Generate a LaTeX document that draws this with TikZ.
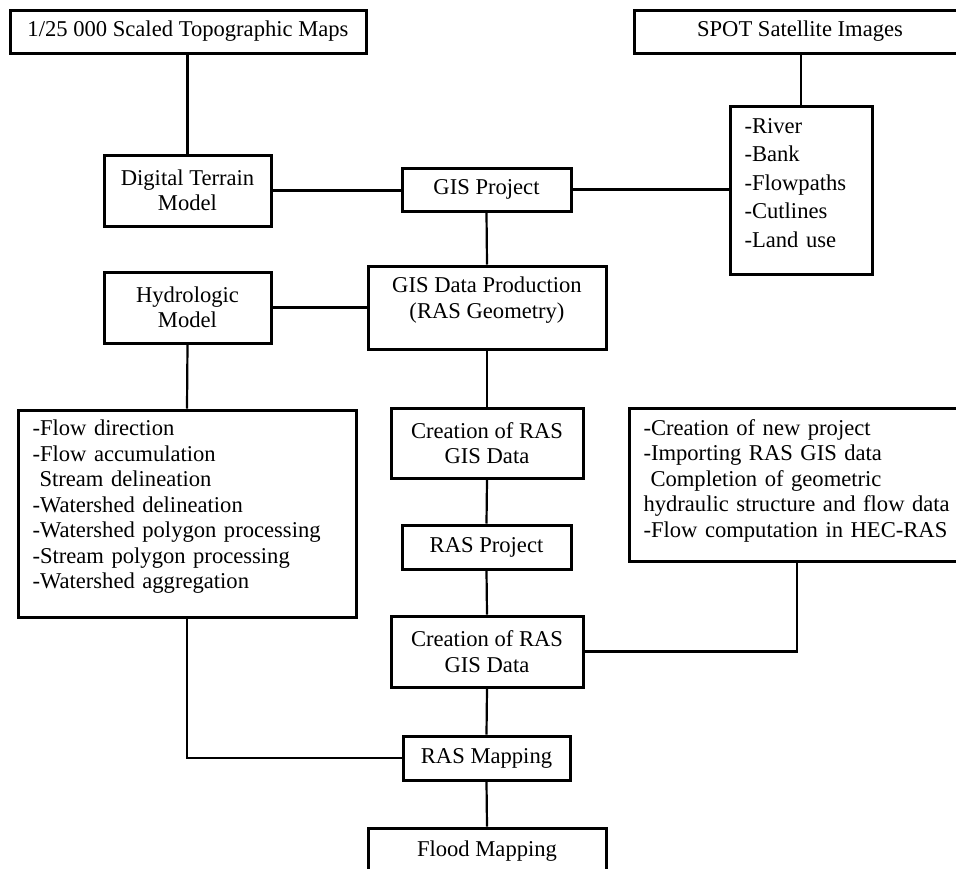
\documentclass[tikz,border=0pt]{standalone}
\usepackage{fontspec}
\setmainfont{Liberation Serif}
\usetikzlibrary{positioning}

\begin{document}
\begin{tikzpicture}[
  x=1pt, y=-1pt,
  every node/.style={align=center, inner sep=0pt,
                     font=\fontsize{22.6}{25.5}\selectfont},
  box/.style ={draw, line width=3pt},
  list/.style={box, align=left, inner xsep=14.5pt},
  link/.style={line width=2.2pt}
]
\useasboundingbox (0,0) rectangle (956,868);

% --- Sources (top row) ---
\node[box, minimum width=356, minimum height=43] (topo) at (188,31.5)
  {1/25 000 Scaled Topographic Maps};
\node[box, minimum width=332, minimum height=43] (spot) at (800,31.5)
  {SPOT Satellite Images};

% --- GIS row ---
\node[box, minimum width=167, minimum height=71] (dtm) at (187.5,190.5)
  {Digital Terrain\\Model};
\node[box, minimum width=169, minimum height=43] (gisp) at (486.5,189.5)
  {GIS Project};
\node[list, text width=113, minimum height=168, font=\fontsize{22.6}{28.5}\selectfont,
      text depth=128pt] (feat) at (801,190)
  {-River\\-Bank\\-Flowpaths\\-Cutlines\\-Land use};

% --- Hydrology and geometry ---
\node[box, minimum width=167, minimum height=71] (hydro) at (187.5,307.5)
  {Hydrologic\\Model};
\node[box, minimum width=238, minimum height=83, text depth=20pt] (gisd) at (487,307.5)
  {GIS Data Production\\(RAS Geometry)};
\node[list, text width=309, minimum height=207, text depth=171pt] (flow) at (187,513.5)
  {-Flow direction\\-Flow accumulation\\\hspace*{7pt}Stream delineation\\
   -Watershed delineation\\-Watershed polygon processing\\
   -Stream polygon processing\\-Watershed aggregation};

% --- RAS chain (centre column) ---
\node[box, minimum width=192, minimum height=70] (crea1) at (487,443)
  {Creation of RAS\\GIS Data};
\node[box, minimum width=169, minimum height=44] (rasp) at (486.5,547)
  {RAS Project};
\node[list, text width=312, minimum height=153, text depth=114pt] (hec) at (799.5,484.5)
  {-Creation of new project\\-Importing RAS GIS data\\
   \hspace*{7pt}Completion of geometric\\hydraulic structure and flow data\\
   -Flow computation in HEC-RAS};
\node[box, minimum width=192, minimum height=71] (crea2) at (487,651.5)
  {Creation of RAS\\GIS Data};
\node[box, minimum width=167, minimum height=44] (rasm) at (486.5,758)
  {RAS Mapping};
\node[box, minimum width=238, minimum height=46] (flood) at (487,851)
  {Flood Mapping};

% --- Connectors ---
\draw[link] (dtm.north |- topo.south) -- (dtm.north);
\draw[link] (feat.north |- spot.south) -- (feat.north);
\draw[link] (dtm.east) -- (dtm.east -| gisp.west);
\draw[link] (gisp.east) -- (gisp.east -| feat.west);
\draw[link] (gisp.south) -- (gisd.north);
\draw[link] (hydro.east) -- (hydro.east -| gisd.west);
\draw[link] (hydro.south) -- (flow.north);
\draw[link] (gisd.south) -- (crea1.north);
\draw[link] (crea1.south) -- (rasp.north);
\draw[link] (rasp.south) -- (crea2.north);
\draw[link] ([xshift=-2.5]hec.south) |- (crea2.east);
\draw[link] (crea2.south) -- (rasm.north);
\draw[link] (flow.south) |- (rasm.west);
\draw[link] (rasm.south) -- (flood.north);

\end{tikzpicture}
\end{document}
